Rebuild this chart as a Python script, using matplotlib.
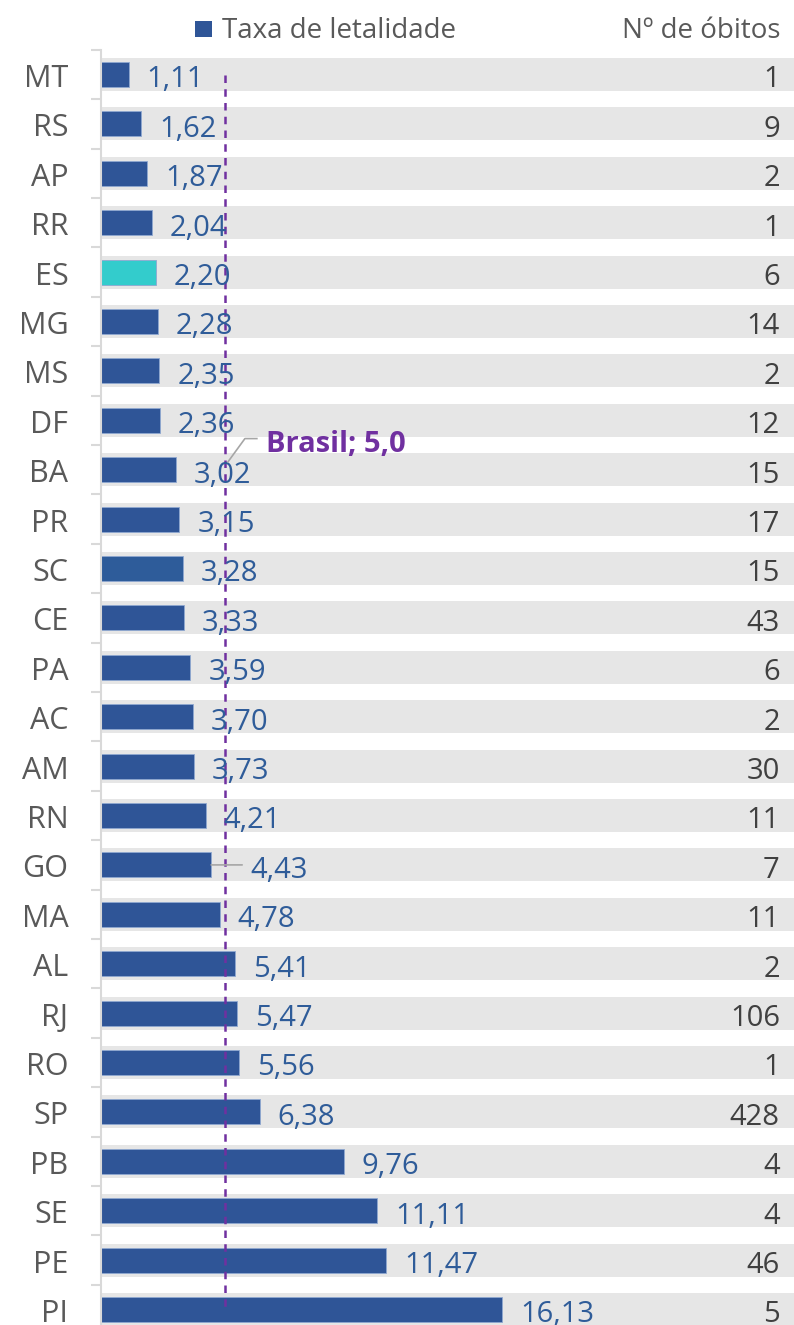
import matplotlib
matplotlib.use("Agg")
import matplotlib.pyplot as plt
from matplotlib.patches import Rectangle
from matplotlib.lines import Line2D

plt.rcParams['font.family'] = ['Open Sans', 'DejaVu Sans']

states = ["MT", "RS", "AP", "RR", "ES", "MG", "MS", "DF", "BA", "PR", "SC", "CE", "PA",
          "AC", "AM", "RN", "GO", "MA", "AL", "RJ", "RO", "SP", "PB", "SE", "PE", "PI"]
rates = [1.11, 1.62, 1.87, 2.04, 2.20, 2.28, 2.35, 2.36, 3.02, 3.15, 3.28, 3.33, 3.59,
         3.70, 3.73, 4.21, 4.43, 4.78, 5.41, 5.47, 5.56, 6.38, 9.76, 11.11, 11.47, 16.13]
deaths = [1, 9, 2, 1, 6, 14, 2, 12, 15, 17, 15, 43, 6, 2, 30, 11, 7, 11, 2, 106, 1, 428, 4, 4, 46, 5]
brasil_rate = 5.0
legend_label = "Taxa de letalidade"
right_header = "Nº de óbitos"

BLUE = "#2F5597"
TEAL = "#33CCCC"
SC_BLUE = "#2E5C9A"
GRAY_BAND = "#E6E6E6"
PURPLE = "#7030A0"
LABEL_BLUE = "#2F5C99"

W, H = 794, 1325
fig = plt.figure(figsize=(W / 100, H / 100), dpi=100)

xmax = 27.88
n = len(states)
row_px = 49.4
top_px = 74.5 - row_px / 2
ybottom = (n - 1) + (H - 1309.5) / row_px
ax = fig.add_axes([101 / W, 0, 1 - 101 / W, 1 - top_px / H])

ypos = list(range(n))
ax.barh(ypos, [xmax] * n, height=0.668, color=GRAY_BAND, zorder=1)
colors = []
for s in states:
    if s == "ES":
        colors.append(TEAL)
    elif s == "SC":
        colors.append(SC_BLUE)
    else:
        colors.append(BLUE)
ax.barh(ypos, rates, height=0.506, color=colors, edgecolor="#8FA8D0", linewidth=0.6, zorder=2)

# Brasil line
ax.plot([brasil_rate, brasil_rate], [0, n - 1], color=PURPLE, linestyle=(0, (3, 2.5)),
        linewidth=1.8, zorder=4)

fs = 21
base_off = -9.3  # points: baseline below row centre
for i, (s, r, d) in enumerate(zip(states, rates, deaths)):
    lab = f"{r:.2f}".replace(".", ",")
    if s == "GO":
        ax.annotate(lab, xy=(r, i), xytext=(28, base_off), textcoords="offset points",
                    ha="left", va="baseline", fontsize=fs, color=LABEL_BLUE, zorder=5)
        ax.annotate("", xy=(r, i), xytext=(r + 1.25, i), textcoords="data",
                    arrowprops=dict(arrowstyle="-", color="#A6A6A6", lw=1.2,
                                    shrinkA=0, shrinkB=0), zorder=5)
    else:
        ax.annotate(lab, xy=(r, i), xytext=(13, base_off), textcoords="offset points",
                    ha="left", va="baseline", fontsize=fs, color=LABEL_BLUE, zorder=5)
    ax.annotate(str(d), xy=(27.31, i), xytext=(0, base_off), textcoords="offset points",
                ha="right", va="baseline", fontsize=fs, color="#404040", zorder=5)
    ax.annotate(s, xy=(0, i), xycoords=("axes fraction", "data"), xytext=(-23.5, base_off + 0.3),
                textcoords="offset points", ha="right", va="baseline", fontsize=22,
                color="#595959", annotation_clip=False)

# Brasil label with leader line
ax.add_line(Line2D([5.11, 5.79, 6.27], [7.84, 7.37, 7.37], color="#A6A6A6", lw=1.2, zorder=5))
ax.text(6.64, (452 - 74.5) / row_px, f"Brasil; {brasil_rate:.1f}".replace(".", ","), ha="left",
        va="baseline", fontsize=fs, fontweight="bold", color=PURPLE, zorder=6)

# axes styling
for sp in ["top", "right", "bottom"]:
    ax.spines[sp].set_visible(False)
ax.spines["left"].set_color("#D9D9D9")
ax.spines["left"].set_linewidth(1.5)
ax.set_xticks([])
ax.set_yticks([])
ax.set_yticks([i - 0.5 for i in range(n + 1)], minor=True)
ax.tick_params(axis="y", which="minor", length=7.5, width=1.5, color="#D9D9D9", direction="out")
ax.set_xlim(0, xmax)
ax.set_ylim(ybottom, -0.5)

# legend / header
fig.patches.append(Rectangle((195 / W, 1 - 37 / H), 17 / W, 16 / H, transform=fig.transFigure,
                             facecolor=BLUE, edgecolor="none"))
fig.text(222 / W, 1 - 38 / H, legend_label, ha="left", va="baseline", fontsize=20, color="#595959")
fig.text(780 / W, 1 - 38 / H, right_header, ha="right", va="baseline", fontsize=20, color="#595959")

fig.savefig("out.png", dpi=100)
